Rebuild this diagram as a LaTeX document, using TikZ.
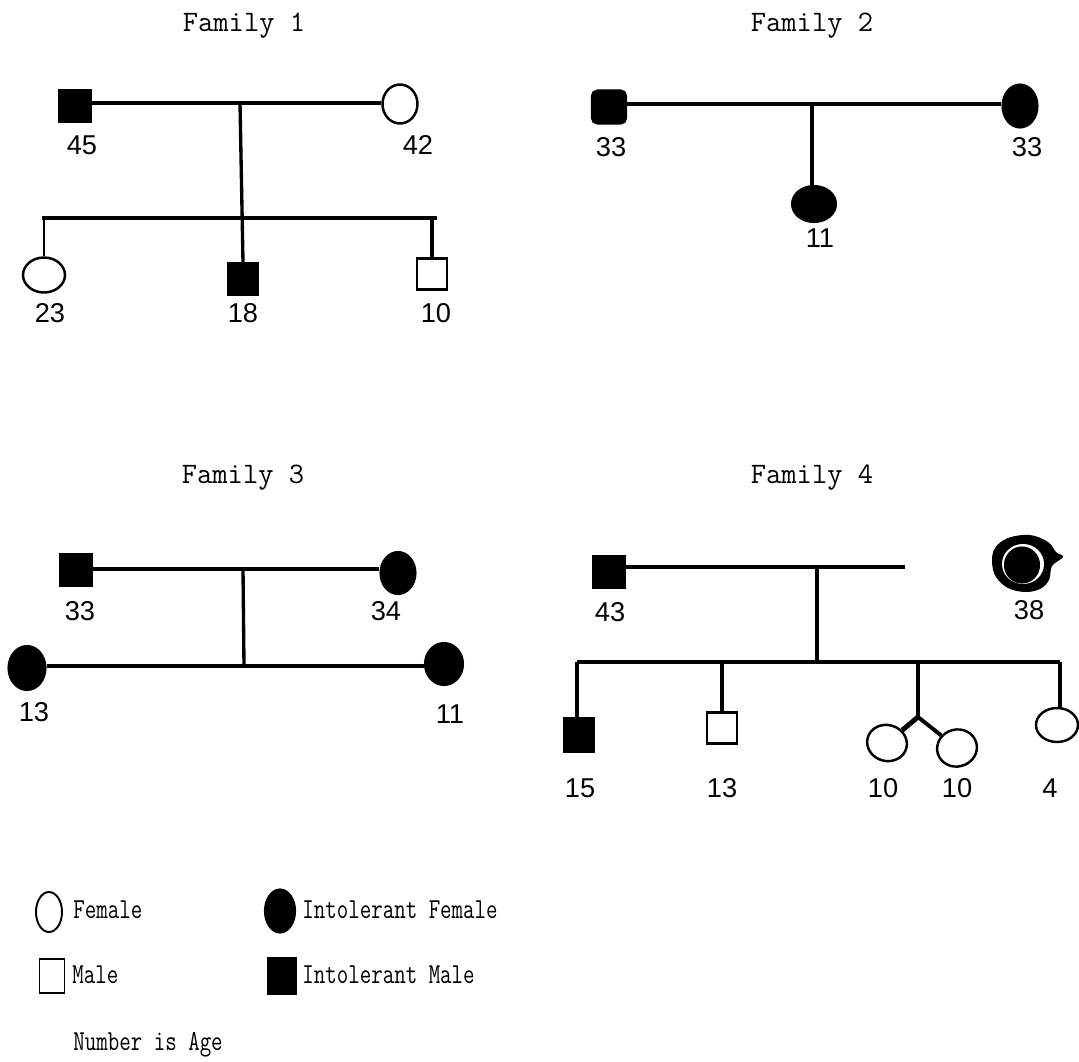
\documentclass[tikz,border=0pt]{standalone}
\usepackage{fontspec}
\usepackage{graphicx}
\usetikzlibrary{shapes.geometric}
\newfontfamily\numf{Liberation Sans}
\newcommand{\legtxt}[1]{\scalebox{1}[1.3]{#1}}
\tikzset{
  pline/.style={line width=1.9pt},
  osym/.style={draw, line width=1.4pt, inner sep=0pt, fill=white},
  fsym/.style={draw, line width=1.2pt, inner sep=0pt, fill=black},
  msq/.style n args={2}{rectangle, minimum width=#1*0.02cm, minimum height=#2*0.02cm},
  fel/.style n args={2}{ellipse, minimum width=#1*0.02cm, minimum height=#2*0.02cm},
  age/.style={inner sep=0pt, font=\numf\fontsize{15.5}{18}\selectfont},
  ttl/.style={inner sep=0pt, anchor=base, font=\ttfamily\fontsize{16.9}{19}\selectfont},
  leg/.style={inner sep=0pt, anchor=base west, font=\ttfamily\fontsize{12.7}{15}\selectfont},
}
\begin{document}
\begin{tikzpicture}[x=0.02cm, y=-0.02cm]
\useasboundingbox (0,0) rectangle (1079,1062);
\fill[white] (0,0) rectangle (1079,1062);

% ---------------- Titles ----------------
\node[ttl] (t1) at (244,31) {Family 1};
\node[ttl] (t2) at (812,31) {Family 2};
\node[ttl] (t3) at (243,483) {Family 3};
\node[ttl] (t4) at (812,483) {Family 4};

% ---------------- Family 1 ----------------
\node[fsym, msq={31}{32}] (f1m) at (75,106) {};
\node[osym, fel={35}{39}] (f1f) at (400,104) {};
\draw[pline] (f1m.east |- 0,103) -- (f1f.west |- 0,103);
\coordinate (f1mar) at (240,103);
\coordinate (f1sl) at (42,218);
\coordinate (f1sr) at (437,218);
\node[osym, fel={42}{35}] (f1c1) at (44,275) {};
\node[fsym, msq={30}{32}] (f1c2) at (243,279) {};
\node[osym, msq={30}{31}] (f1c3) at (432,274) {};
\draw[pline] (f1mar) -- (f1c2.north);
\draw[pline] (f1sl) -- (f1sr);
\draw[line width=1.4pt] (f1c1.north |- f1sl) -- (f1c1.north);
\draw[pline] (f1c3.north |- f1sl) -- (f1c3.north);
\node[age] (a45) at (82,145) {45};
\node[age] (a42) at (418,145) {42};
\node[age] (a23) at (50,313) {23};
\node[age] (a18) at (243,313) {18};
\node[age] (a10) at (436,313) {10};

% ---------------- Family 2 ----------------
\node[fsym, msq={34}{33}, rounded corners=3pt] (f2m) at (609,107) {};
\node[fsym, fel={35}{43}] (f2f) at (1020,106) {};
\draw[pline] (f2m.east |- 0,104) -- (f2f.west |- 0,104);
\coordinate (f2mar) at (812,104);
\node[fsym, fel={44}{36}] (f2c) at (814,204) {};
\draw[pline] (f2mar) -- (f2c.north -| f2mar);
\node[age] (b33a) at (611,147) {33};
\node[age] (b33b) at (1027,147) {33};
\node[age] (b11) at (820,238) {11};

% ---------------- Family 3 ----------------
\node[fsym, msq={31}{31}] (f3m) at (76,570) {};
\node[fsym, fel={35}{42}] (f3f) at (398,573) {};
\draw[pline] (f3m.east |- 0,569) -- (f3f.west |- 0,569);
\node[fsym, fel={37}{44}] (f3c1) at (27,668) {};
\node[fsym, fel={38}{42}] (f3c2) at (444,664) {};
\draw[pline] (f3c1.east |- 0,666) -- (f3c2.west |- 0,666);
\coordinate (f3mar) at (243,569);
\coordinate (f3sib) at (244,666);
\draw[pline] (f3mar) -- (f3sib);
\node[age] (c33) at (80,611) {33};
\node[age] (c34) at (386,611) {34};
\node[age] (c13) at (34,712) {13};
\node[age] (c11) at (450,714) {11};

% ---------------- Family 4 ----------------
\node[fsym, msq={31}{32}] (f4m) at (609,572) {};
% smudged mother symbol
\fill[black] plot[smooth cycle, tension=0.6] coordinates {(995,548) (1008,538) (1030,535) (1048,542) (1056,552) (1063,557) (1052,566) (1049,580) (1040,589) (1025,592) (1008,588) (996,577) (992,562)};
\fill[white] (1023,564) ellipse [x radius=21, y radius=20];
\node[fsym, fel={34}{35}] (f4f) at (1022,565) {};
\coordinate (f4end) at (905,567);
\draw[pline] (f4m.east |- f4end) -- (f4end);
\coordinate (f4mar) at (817,567);
\coordinate (f4sib) at (817,662);
\draw[pline] (f4mar) -- (f4sib);
\coordinate (f4sl) at (577,662);
\coordinate (f4sr) at (1060,662);
\draw[pline] (f4sl) -- (f4sr);
\node[fsym, msq={29}{33}] (f4c1) at (579,735) {};
\node[osym, msq={30}{31}] (f4c2) at (722,728) {};
\node[osym, fel={40}{36}, rotate=-15] (f4c3) at (887,743) {};
\node[osym, fel={40}{37}, rotate=15] (f4c4) at (957,748) {};
\node[osym, fel={42}{34}] (f4c5) at (1057,725) {};
\coordinate (twin) at (918,717);
\draw[pline] (f4sl) -- (f4c1.north -| f4sl);
\draw[pline] (f4c2.north |- f4sl) -- (f4c2.north);
\draw[pline] (twin |- f4sl) -- (twin);
\draw[line width=2.8pt] (twin) -- (f4c3);
\draw[line width=2.2pt] (twin) -- (f4c4);
\draw[pline] (f4sr) -- (f4c5.north -| f4sr);
\node[age] (d43) at (610,612) {43};
\node[age] (d38) at (1029,610) {38};
\node[age] (d15) at (580,788) {15};
\node[age] (d13) at (722,788) {13};
\node[age] (d10a) at (883,788) {10};
\node[age] (d10b) at (957,788) {10};
\node[age] (d4) at (1050,788) {4};

% ---------------- Legend ----------------
\node[osym, fel={26}{40}, line width=1.1pt] (lgf) at (49,912) {};
\node[leg] (lgft) at (73,918) {\legtxt{Female}};
\node[fsym, fel={30}{43}] (lgif) at (280,911) {};
\node[leg] (lgift) at (302,918) {\legtxt{Intolerant Female}};
\node[osym, msq={25}{34}, line width=1.1pt] (lgm) at (52,976) {};
\node[leg] (lgmt) at (72,983) {\legtxt{Male}};
\node[fsym, msq={27}{35}] (lgim) at (282,976) {};
\node[leg] (lgimt) at (302,983) {\legtxt{Intolerant Male}};
\node[leg] (lgnum) at (73,1050) {\legtxt{Number is Age}};
\end{tikzpicture}
\end{document}
